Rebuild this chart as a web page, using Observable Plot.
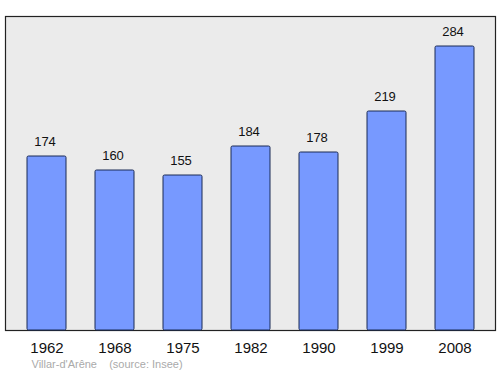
<!DOCTYPE html>
<html><head><meta charset="utf-8">
<script src="https://cdn.jsdelivr.net/npm/d3@7"></script>
<script src="https://cdn.jsdelivr.net/npm/@observablehq/plot@0.6"></script>
<style>body{margin:0;background:#fff}</style>
</head><body>
<div id="chart"></div>
<script>
const years = ["1962","1968","1975","1982","1990","1999","2008"];
const population = [174,160,155,184,178,219,284];
const caption = "Villar-d'Arêne    (source: Insee)";

const data = years.map((y,i)=>({year:y, pop:population[i]}));

const chart = Plot.plot({
  width: 500, height: 374,
  marginLeft: 5, marginRight: 5, marginTop: 16, marginBottom: 44,
  style: {fontFamily: "'Liberation Sans', Arial, sans-serif", background: "#fff"},
  x: {domain: years, paddingInner: 0.43, paddingOuter: 0.3, label: null},
  y: {domain: [0, 314], axis: null},
  marks: [
    Plot.frame({fill: "#ebebeb", stroke: "#222", strokeWidth: 1.2}),
    Plot.barY(data, {x: "year", y: "pop", fill: "#7799ff", stroke: "#1a2a55", strokeWidth: 1, rx: 1.5}),
    Plot.text(data, {x: "year", y: "pop", text: d => String(d.pop), dy: -15, dx: -2, fontSize: 13, fill: "#111"}),
    Plot.axisX({tickSize: 0, tickPadding: 12, fontSize: 15, fill: "#111", label: null}),
    Plot.text([caption], {text: d => d, frameAnchor: "bottom-left", dx: 26, dy: 34, textAnchor: "start", fontSize: 11, fill: "#aaa", lineAnchor: "middle"})
  ]
});
document.getElementById("chart").appendChild(chart);
</script>
</body></html>
